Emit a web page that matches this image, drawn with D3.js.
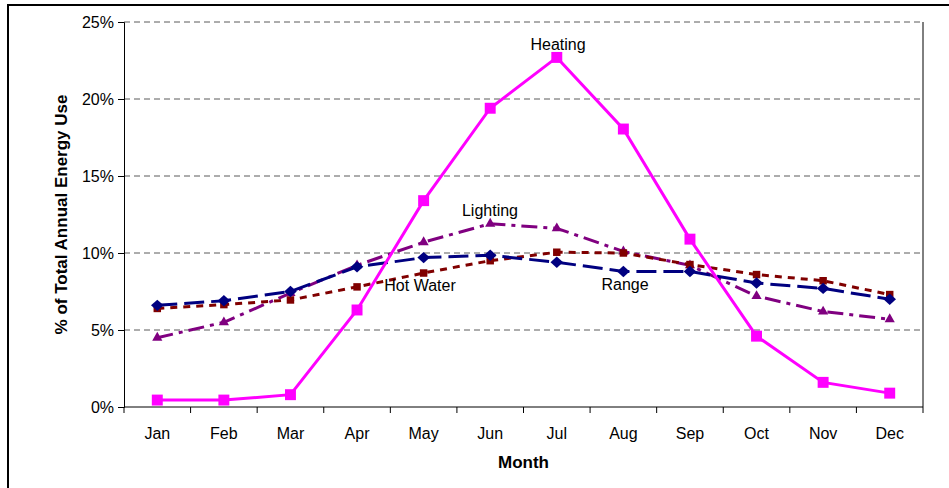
<!DOCTYPE html>
<html><head><meta charset="utf-8">
<script src="https://cdn.jsdelivr.net/npm/d3@7"></script>
<style>body{margin:0;background:#fff}svg{display:block;font-family:"Liberation Sans",Arial,sans-serif}</style>
</head><body><svg id="c" width="949" height="488"></svg>
<script>
const months = ["Jan","Feb","Mar","Apr","May","Jun","Jul","Aug","Sep","Oct","Nov","Dec"];
const heating = [0.45,0.45,0.8,6.3,13.4,19.4,22.7,18.05,10.9,4.6,1.6,0.9];
const range = [6.6,6.9,7.5,9.1,9.7,9.85,9.4,8.8,8.8,8.05,7.7,7.0];
const hotWater = [6.4,6.65,6.95,7.8,8.7,9.5,10.05,10.0,9.25,8.6,8.2,7.3];
const lighting = [4.5,5.5,7.4,9.2,10.7,11.9,11.6,10.1,9.2,7.2,6.2,5.7];
const yTicks = [0,5,10,15,20,25];

const svg = d3.select("#c");
const L = 124, R = 923, T = 22, B = 407;
const FF = "Liberation Sans, Arial, sans-serif";
const x = d3.scaleBand().domain(months).range([L, R]);
const y = d3.scaleLinear().domain([0, 25]).range([B, T]);
const cx = m => x(m) + x.bandwidth() / 2;

svg.append("rect").attr("x", 8).attr("y", 5).attr("width", 960).attr("height", 500)
  .attr("fill", "none").attr("stroke", "#000").attr("stroke-width", 2);

svg.append("g").selectAll("line").data(yTicks.filter(d => d > 0)).join("line")
  .attr("x1", L).attr("x2", R).attr("y1", d => y(d)).attr("y2", d => y(d))
  .attr("stroke", "#5a5a5a").attr("stroke-width", 1).attr("stroke-dasharray", "6,4");

svg.append("line").attr("x1", R).attr("x2", R).attr("y1", T).attr("y2", B).attr("stroke", "#000");

const yAxis = d3.axisLeft(y).tickValues(yTicks).tickFormat(d => d + "%").tickSize(6).tickPadding(4);
const gy = svg.append("g").attr("transform", `translate(${L},0)`).call(yAxis);
gy.select(".domain").attr("stroke", "#000");
gy.selectAll("text").attr("font-size", 16).attr("fill", "#000").attr("font-family", FF);

const gx = svg.append("g").attr("transform", `translate(0,${B})`)
  .call(d3.axisBottom(x).tickSize(0).tickPadding(21));
gx.select(".domain").attr("stroke", "#000").attr("d", `M${L},0H${R}`);
gx.selectAll("text").attr("font-size", 16).attr("fill", "#000").attr("font-family", FF);
const bounds = months.map(m => x(m)).concat([R]);
svg.append("g").selectAll("line").data(bounds).join("line")
  .attr("x1", d => d).attr("x2", d => d).attr("y1", B).attr("y2", B + 6).attr("stroke", "#000");

svg.append("text").attr("transform", `translate(67,${(T + B) / 2}) rotate(-90)`)
  .attr("text-anchor", "middle").attr("font-size", 17).attr("font-weight", "bold").text("% of Total Annual Energy Use");
svg.append("text").attr("x", (L + R) / 2).attr("y", 468).attr("text-anchor", "middle")
  .attr("font-size", 17).attr("font-weight", "bold").text("Month");

const diamond = { draw(ctx, size) { const r = Math.sqrt(size) / 2; ctx.moveTo(0, -r); ctx.lineTo(r * 1.1, 0); ctx.lineTo(0, r); ctx.lineTo(-r * 1.1, 0); ctx.closePath(); } };

const line = d3.line().x((d, i) => cx(months[i])).y(d => y(d));
function series(data, color, dash, marker, size) {
  svg.append("path").datum(data).attr("d", line).attr("fill", "none")
    .attr("stroke", color).attr("stroke-width", 3).attr("stroke-dasharray", dash);
  svg.append("g").selectAll("path").data(data).join("path")
    .attr("transform", (d, i) => `translate(${cx(months[i])},${y(d)})`)
    .attr("d", d3.symbol().type(marker).size(size)).attr("fill", color);
}
series(lighting, "#800080", "16,6,4,6", d3.symbolTriangle, 45);
series(hotWater, "#800000", "7,6", d3.symbolSquare, 56);
series(range, "#000080", "20,7", diamond, 130);
series(heating, "#ff00ff", null, d3.symbolSquare, 120);

const labs = [["Heating", 558, 50], ["Lighting", 490, 216], ["Hot Water", 420, 291], ["Range", 625, 290]];
svg.append("g").selectAll("text").data(labs).join("text")
  .attr("x", d => d[1]).attr("y", d => d[2]).attr("text-anchor", "middle").attr("font-size", 16).text(d => d[0]);
</script></body></html>
